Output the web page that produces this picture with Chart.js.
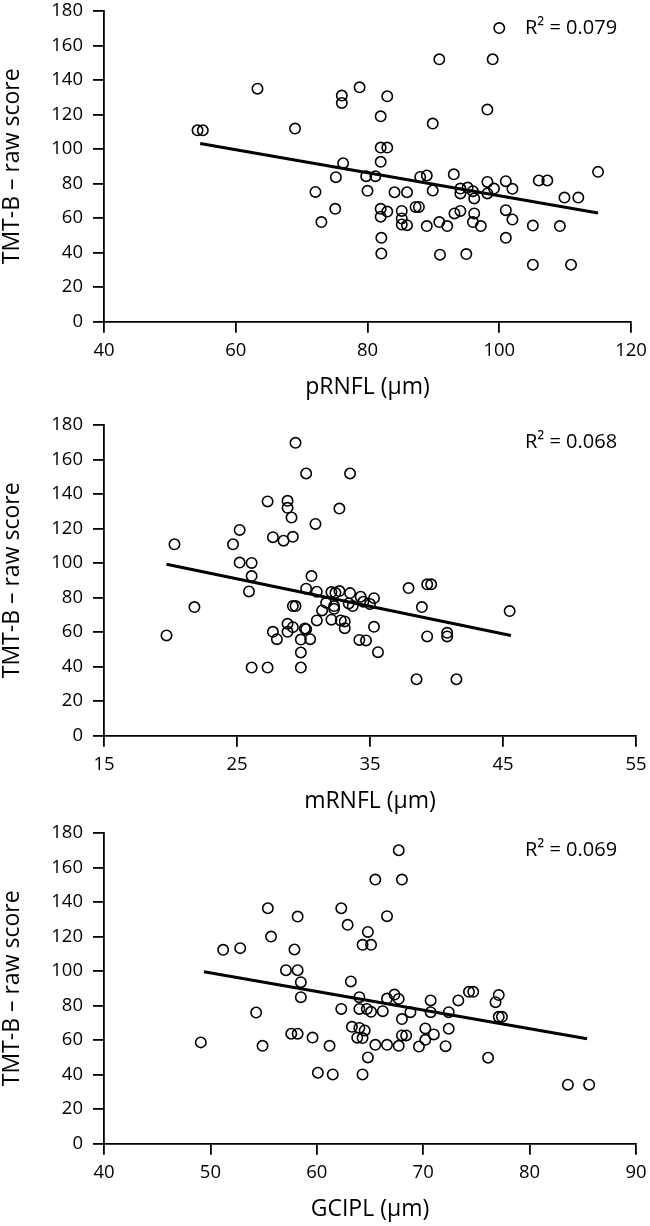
<!DOCTYPE html>
<html>
<head>
<meta charset="utf-8">
<script src="https://cdn.jsdelivr.net/npm/chart.js@4.4.1/dist/chart.umd.min.js"></script>
<style>
html,body{margin:0;padding:0;background:#fff;overflow:hidden;width:650px;height:1226px;}
.panel{position:absolute;left:0;width:650px;height:410px;}
</style>
</head>
<body>
<div class="panel" style="top:0px"><canvas id="c1"></canvas></div>
<div class="panel" style="top:414px"><canvas id="c2"></canvas></div>
<div class="panel" style="top:822px"><canvas id="c3"></canvas></div>
<script>
// ---- data ----
const yTicks = [0, 20, 40, 60, 80, 100, 120, 140, 160, 180];
const yTitle = 'TMT-B – raw score';

const pRNFL_x = [54.2,55.0,63.3,69.0,72.1,73.0,75.2,75.1,76.1,76.1,
  76.3,78.8,79.8,81.2,80.0,82.0,83.0,82.0,83.0,82.0,
  82.0,82.0,83.0,82.1,82.1,84.1,86.0,85.2,85.2,85.2,
  86.0,87.3,87.8,88.0,89.0,89.0,89.9,89.9,90.9,90.9,
  91.0,92.1,93.1,93.2,94.1,94.1,94.1,95.2,96.0,96.2,
  96.2,96.0,97.2,95.0,98.2,98.2,98.2,99.2,99.0,100.0,
  101.0,102.0,101.0,102.0,101.0,105.1,105.1,106.0,107.3,109.9,
  112.0,109.2,110.9,115.0];
const pRNFL_y = [110.9,110.9,135.0,111.9,75.2,57.7,83.7,65.4,131.0,126.7,
  91.8,135.8,84.3,84.3,75.8,119.0,130.6,100.9,100.9,92.6,
  65.4,60.8,63.8,48.6,39.5,75.0,75.0,64.2,59.8,56.3,
  55.9,66.5,66.5,83.9,84.7,55.4,114.8,76.0,152.0,57.7,
  38.8,55.4,85.4,62.7,64.2,77.1,74.3,77.7,75.6,71.4,
  62.7,57.7,55.4,39.2,122.9,81.0,74.3,77.1,152.0,170.1,
  81.4,77.0,64.6,59.2,48.6,55.7,33.0,81.8,81.8,71.9,
  71.9,55.4,33.0,86.8];
const pRNFL_fitX = [54.6, 115.0];
const pRNFL_fitY = [103.2, 63.0];
const pRNFL_ticks = [40, 60, 80, 100, 120];

const mRNFL_x = [29.4,30.2,33.5,27.3,28.8,28.8,29.1,32.7,30.9,25.2,
  24.7,20.3,27.7,28.5,29.2,25.2,26.1,26.1,25.9,21.8,
  19.7,30.6,30.2,31.0,32.1,32.4,32.7,33.5,34.3,35.3,
  31.7,32.3,33.4,33.7,34.5,35.0,31.4,32.3,29.2,29.4,
  31.0,32.1,32.8,33.1,33.1,28.8,29.2,27.7,28.8,28.0,
  30.1,30.2,29.8,30.5,29.8,26.1,27.3,29.8,34.2,34.7,
  35.3,35.6,37.9,39.3,39.6,38.9,39.3,40.8,40.8,38.5,
  41.5,45.5];
const mRNFL_y = [169.7,151.9,151.9,135.7,136.1,132.0,126.4,131.6,122.7,119.2,
  110.9,110.9,115.0,113.0,115.2,100.3,100.1,92.5,83.6,74.5,
  58.1,92.5,85.2,83.4,83.2,82.8,83.8,82.6,80.5,79.7,
  77.0,75.1,76.6,75.1,77.6,76.3,72.6,73.5,75.1,75.1,
  66.8,67.2,66.8,66.2,62.3,64.8,62.9,60.2,60.2,55.9,
  62.1,61.7,55.7,55.9,48.2,39.5,39.5,39.5,55.5,55.2,
  63.1,48.4,85.5,87.7,87.7,74.5,57.5,59.6,57.5,32.7,
  32.7,72.2];
const mRNFL_fitX = [19.7, 45.6];
const mRNFL_fitY = [99.3, 58.1];
const mRNFL_ticks = [15, 25, 35, 45, 55];

const gcipl_x = [67.7,65.5,68.0,55.4,62.3,58.2,66.6,62.9,64.8,55.7,
  51.2,52.8,57.9,64.3,65.1,57.1,58.2,58.5,58.5,54.3,
  49.1,54.9,57.6,58.2,59.6,61.2,60.1,61.5,64.3,64.8,
  63.2,64.0,62.3,64.0,64.7,65.1,66.2,66.6,67.3,67.7,
  68.0,68.8,63.3,64.0,64.5,63.8,64.3,65.5,66.6,67.7,
  68.0,68.4,69.6,70.2,70.2,71.0,70.7,70.7,72.1,72.4,
  72.4,73.3,74.3,74.7,76.1,76.8,77.1,77.1,77.4,83.6,
  85.6];
const gcipl_y = [170.0,153.0,153.0,136.4,136.4,131.6,131.8,126.8,122.7,120.0,
  112.3,113.3,112.5,115.2,115.2,100.5,100.5,93.6,84.9,76.0,
  58.7,56.7,63.7,63.7,61.5,56.7,41.1,40.1,40.1,50.0,
  94.0,84.9,78.1,78.1,78.1,76.4,76.8,84.1,86.4,83.9,
  72.2,76.2,67.7,67.1,65.6,61.4,61.2,57.3,57.3,56.7,
  62.7,62.7,56.3,60.2,66.8,63.3,83.0,76.2,56.5,76.2,
  66.6,83.0,88.0,88.0,49.8,82.0,86.1,73.5,73.5,34.2,
  34.2];
const gcipl_fitX = [49.4, 85.4];
const gcipl_fitY = [99.6, 60.8];
const gcipl_ticks = [40, 50, 60, 70, 80, 90];

const xTitles = ['pRNFL (µm)', 'mRNFL (µm)', 'GCIPL (µm)'];
const r2Labels = ['R² = 0.079', 'R² = 0.068', 'R² = 0.069'];

// ---- drawing ----
Chart.defaults.color = '#000';
Chart.defaults.font.family = '"Open Sans", "Noto Sans", sans-serif';

const FONT = '"Open Sans", "Noto Sans", sans-serif';
const AXW = 1.8;

const r2Plugin = {
  id: 'r2text',
  afterDatasetsDraw(chart, args, opts) {
    const {ctx, chartArea} = chart;
    ctx.save();
    ctx.font = '20px ' + FONT;
    ctx.fillStyle = '#000';
    ctx.textAlign = 'left';
    ctx.textBaseline = 'middle';
    ctx.fillText(opts.text, chartArea.left + opts.dx, chartArea.top + opts.dy);
    ctx.restore();
  }
};

function zip(xs, ys) { return xs.map((x, i) => ({x: x, y: ys[i]})); }

function makeChart(id, xs, ys, fx, fy, xt, title, r2, padRight) {
  new Chart(document.getElementById(id), {
    type: 'scatter',
    data: {
      datasets: [
        {
          type: 'scatter',
          data: zip(xs, ys),
          pointStyle: 'circle',
          pointRadius: 5.2,
          pointHoverRadius: 5.2,
          borderWidth: 1.6,
          borderColor: '#000',
          backgroundColor: 'rgba(0,0,0,0)'
        },
        {
          type: 'line',
          data: zip(fx, fy),
          borderColor: '#000',
          borderWidth: 3,
          pointRadius: 0,
          fill: false,
          tension: 0
        }
      ]
    },
    options: {
      animation: false,
      responsive: true,
      maintainAspectRatio: false,
      devicePixelRatio: 1,
      layout: {padding: {top: 11, right: padRight, left: 0, bottom: 0}},
      plugins: {
        legend: {display: false},
        tooltip: {enabled: false},
        r2text: {text: r2, dx: 421, dy: 17}
      },
      scales: {
        x: {
          type: 'linear',
          min: xt[0], max: xt[xt.length - 1],
          afterBuildTicks: (s) => { s.ticks = xt.map(v => ({value: v})); },
          ticks: {font: {size: 18.5, family: FONT}, padding: 7, color: '#000', maxRotation: 0},
          grid: {drawOnChartArea: false, drawTicks: true, tickLength: 11, color: '#000', lineWidth: AXW},
          border: {display: true, color: '#000', width: AXW},
          title: {display: true, text: title, color: '#000', font: {size: 23, family: FONT, lineHeight: 1.1}, padding: {top: 0, bottom: 10}},
          afterFit: (s) => { s.height = 410 - 11 - 310.7; s.paddingLeft = 0; s.paddingRight = 0; }
        },
        y: {
          type: 'linear',
          min: yTicks[0], max: yTicks[yTicks.length - 1],
          afterBuildTicks: (s) => { s.ticks = yTicks.map(v => ({value: v})); },
          ticks: {font: {size: 18.5, family: FONT}, padding: 10, color: '#000'},
          grid: {drawOnChartArea: false, drawTicks: true, tickLength: 11, color: '#000', lineWidth: AXW},
          border: {display: true, color: '#000', width: AXW},
          title: {display: true, text: yTitle, color: '#000', font: {size: 23, family: FONT, lineHeight: 1.1}, padding: {top: 0, bottom: 0}},
          afterFit: (s) => { s.width = 104; s.paddingTop = 0; s.paddingBottom = 0; }
        }
      }
    },
    plugins: [r2Plugin]
  });
}

makeChart('c1', pRNFL_x, pRNFL_y, pRNFL_fitX, pRNFL_fitY, pRNFL_ticks, xTitles[0], r2Labels[0], 19);
makeChart('c2', mRNFL_x, mRNFL_y, mRNFL_fitX, mRNFL_fitY, mRNFL_ticks, xTitles[1], r2Labels[1], 14);
makeChart('c3', gcipl_x, gcipl_y, gcipl_fitX, gcipl_fitY, gcipl_ticks, xTitles[2], r2Labels[2], 14);
</script>
</body>
</html>
